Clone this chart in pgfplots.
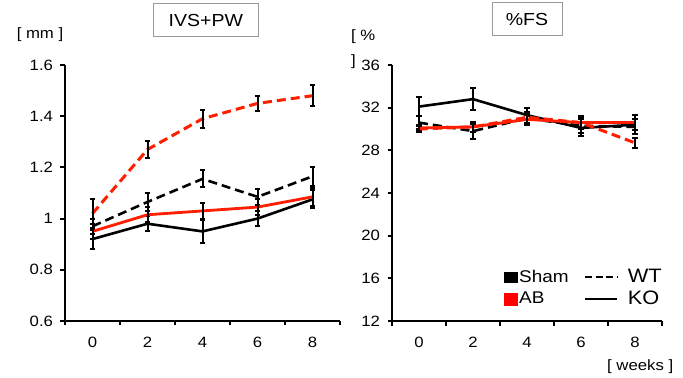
\documentclass[border=0pt]{standalone}
\usepackage{fontspec}
\setmainfont{Liberation Sans}[FakeStretch=1.12]
\usepackage{pgfplots}
\pgfplotsset{compat=1.18}
\definecolor{myred}{RGB}{255,30,0}
\pgfplotsset{
 base/.style={scale only axis, anchor=south west, xmin=-1, xmax=9,
   axis x line*=bottom, axis y line*=left, axis line style={line width=2.2bp, -},
   tick align=outside, major tick length=4.5bp, tick style={line width=2bp, black},
   xtick={-1,1,3,5,7,9}, xticklabels={},
   extra x ticks={0,2,4,6,8}, extra x tick labels={0,2,4,6,8},
   extra x tick style={major tick length=0pt},
   ticklabel style={font=\fontsize{15}{15}\selectfont},
   /pgf/number format/assume math mode=true,
   xticklabel style={yshift=-13bp},
   yticklabel style={xshift=-4bp},
   title style={draw=gray!80, line width=1bp, minimum height=33bp, inner sep=0pt, anchor=south, font=\fontsize{17.5}{17.5}\selectfont},
 },
 err/.style={forget plot, mark=none, error bars/y dir=both, error bars/y explicit,
   error bars/error bar style={black, solid, line width=2bp},
   error bars/error mark options={rotate=90, black, solid, mark size=2.6bp, line width=2bp}},
 wtdash/.style={dash pattern=on 9bp off 5bp},
}
\begin{document}
\begin{tikzpicture}
\useasboundingbox (0,0) rectangle (683bp,378bp);
% Left panel
\begin{axis}[base, at={(65bp,57bp)}, width=275bp, height=256bp,
  ymin=0.6, ymax=1.6, ytick={0.6,0.8,1,1.2,1.4,1.6},
  title={IVS+PW}, title style={at={(0.512,1)}, yshift=22bp, minimum width=105bp}]
\addplot[black, line width=2.6bp, wtdash, err] table[x=x,y=y,y error=e] {
x y e
0 0.97 0.03
2 1.065 0.035
4 1.155 0.033
6 1.085 0.03
8 1.165 0.037
};
\addplot[black, line width=2.6bp, err] table[x=x,y=y,y error=e] {
x y e
0 0.92 0.037
2 0.98 0.03
4 0.95 0.045
6 1.0 0.03
8 1.075 0.035
};
\addplot[myred, line width=2.8bp, err] table[x=x,y=y,y error=e] {
x y e
0 0.95 0.03
2 1.015 0.03
4 1.03 0.03
6 1.045 0.03
8 1.085 0.035
};
\addplot[myred, line width=3bp, wtdash, err] table[x=x,y=y,y error=e] {
x y e
0 1.02 0.055
2 1.27 0.035
4 1.39 0.035
6 1.45 0.03
8 1.48 0.04
};
\end{axis}
% Right panel
\begin{axis}[base, at={(392bp,57bp)}, width=270bp, height=256bp,
  ymin=12, ymax=36, ytick={12,16,20,24,28,32,36},
  title={\%FS}, title style={at={(0.5,1)}, yshift=23bp, minimum width=70bp},
  legend columns=2, legend cell align=left,
  legend style={at={(axis cs:3.15,17.0)}, anchor=north west, draw=none, fill=none,
    inner sep=0pt, row sep=4bp, /tikz/every even column/.append style={column sep=14bp},
    nodes={inner sep=1.5bp}}]
\addplot[black, line width=2.6bp, wtdash, err] table[x=x,y=y,y error=e] {
x y e
0 30.6 0.6
2 29.8 0.7
4 31.0 0.6
6 30.3 0.7
8 30.2 0.7
};
\addplot[black, line width=2.6bp, err] table[x=x,y=y,y error=e] {
x y e
0 32.1 0.9
2 32.8 1.05
4 31.3 0.7
6 30.1 0.8
8 30.4 0.9
};
\addplot[myred, line width=2.8bp, err] table[x=x,y=y,y error=e] {
x y e
0 30.1 0.3
2 30.2 0.5
4 30.9 0.5
6 30.6 0.6
8 30.6 0.7
};
\addplot[myred, line width=3bp, wtdash, err] table[x=x,y=y,y error=e] {
x y e
0 30.0 0.3
2 30.2 0.5
4 31.1 0.5
6 30.6 0.6
8 28.7 0.5
};
\addlegendimage{legend image code/.code={\fill[black] (0bp,-5bp) rectangle (13bp,5bp);}}
\addlegendentry{\fontsize{17}{17}\selectfont Sham}
\addlegendimage{legend image code/.code={\draw[black, line width=2bp, dash pattern=on 7bp off 3.5bp] (0bp,0bp) -- (32bp,0bp); \fill[white, opacity=0] (32bp,-1bp) rectangle (41bp,1bp);}}
\addlegendentry{\fontsize{19.5}{19.5}\selectfont WT}
\addlegendimage{legend image code/.code={\fill[red] (0bp,-6bp) rectangle (13bp,6bp);}}
\addlegendentry{\fontsize{17}{17}\selectfont AB}
\addlegendimage{legend image code/.code={\draw[black, line width=2bp] (0bp,0bp) -- (32bp,0bp); \fill[white, opacity=0] (32bp,-1bp) rectangle (41bp,1bp);}}
\addlegendentry{\fontsize{19.5}{19.5}\selectfont KO}
\end{axis}
\node[font=\fontsize{15}{15}\selectfont] at (40bp,343bp) {[ mm ]};
\node[anchor=west, font=\fontsize{15}{15}\selectfont, inner sep=0pt] at (351bp,341bp) {[ \%};
\node[anchor=west, font=\fontsize{15}{15}\selectfont, inner sep=0pt] at (351bp,316bp) {]};
\node[anchor=west, font=\fontsize{15}{15}\selectfont, inner sep=0pt] at (607bp,11bp) {[ weeks ]};
\end{tikzpicture}
\end{document}
